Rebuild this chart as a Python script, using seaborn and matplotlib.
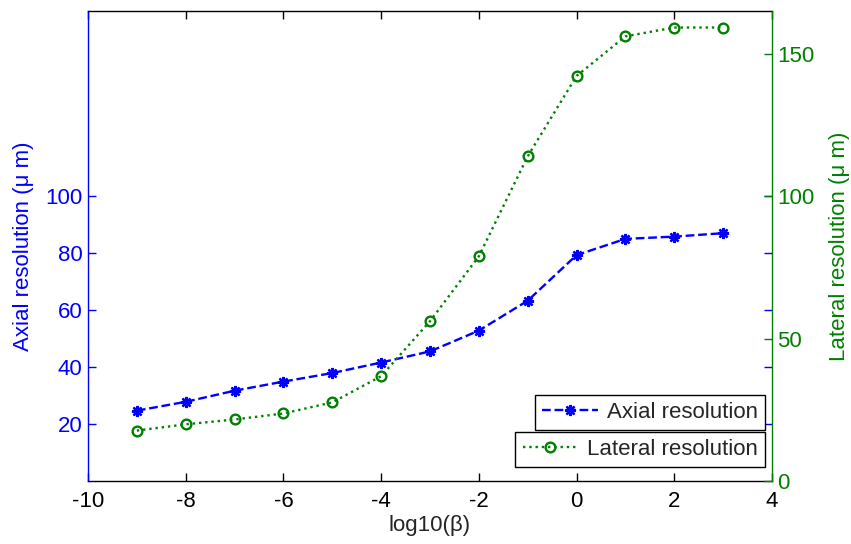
import matplotlib
matplotlib.use("Agg")
import matplotlib.pyplot as plt
import seaborn as sns
import pandas as pd

# log10(beta) sweep and the measured resolutions (micrometres)
log_beta = [-9, -8, -7, -6, -5, -4, -3, -2, -1, 0, 1, 2, 3]
axial_um = [24.7, 27.8, 31.7, 34.9, 37.9, 41.6, 45.5, 52.8, 63.3, 79.3, 85.0, 85.8, 87.0]
lateral_um = [17.7, 19.9, 21.6, 23.7, 27.6, 36.8, 56.1, 78.9, 114.0, 142.2, 156.1, 159.2, 159.2]

x_ticks = [-10, -8, -6, -4, -2, 0, 2, 4]
left_ticks = [20, 40, 60, 80, 100]
right_ticks = [0, 50, 100, 150]

df = pd.DataFrame({"log_beta": log_beta, "axial": axial_um, "lateral": lateral_um})

sns.set_theme(style="white")
plt.rcParams["font.family"] = ["Liberation Sans", "DejaVu Sans"]

BLUE = (0, 0, 1)
GREEN = (0, 0.5, 0)
FS = 16

fig = plt.figure(figsize=(8.51, 5.44), dpi=100)
ax = fig.add_axes([88 / 851, 1 - 481 / 544, (772 - 88) / 851, (481 - 11) / 544])
ax2 = ax.twinx()

sns.lineplot(data=df, x="log_beta", y="axial", ax=ax, color=BLUE, linestyle="--",
             linewidth=1.7, marker=(8, 2, 0), markersize=8, markeredgewidth=1.7,
             markeredgecolor=BLUE, label="Axial resolution", legend=False)
sns.lineplot(data=df, x="log_beta", y="lateral", ax=ax2, color=GREEN, linestyle=":",
             linewidth=1.7, marker="o", markersize=7, markerfacecolor="none",
             markeredgewidth=1.7, markeredgecolor=GREEN, label="Lateral resolution",
             legend=False)

ylim = (0, 165)
ax.set_xlim(-10, 4)
ax.set_ylim(*ylim)
ax2.set_ylim(*ylim)

ax.set_xticks(x_ticks)
ax.set_xticklabels([str(t) for t in x_ticks], fontsize=FS, color="black")
ax.set_yticks(left_ticks)
ax.set_yticklabels([str(t) for t in left_ticks], fontsize=FS, color=BLUE)
ax2.set_yticks(right_ticks)
ax2.set_yticklabels([str(t) for t in right_ticks], fontsize=FS, color=GREEN)

ax.tick_params(axis="x", direction="in", length=6, width=1, top=True, bottom=True,
               colors="black", pad=7)
ax.tick_params(axis="y", direction="in", length=6, width=1, left=True, right=True,
               colors=BLUE, pad=4)
ax2.tick_params(axis="y", direction="in", length=6, width=1, left=False, right=True,
                colors=GREEN, pad=4)

ax.set_xlabel("log10(β)", fontsize=FS, labelpad=2)
ax.set_ylabel("Axial resolution (μ m)", fontsize=FS, color=BLUE, labelpad=8)
ax2.set_ylabel("Lateral resolution (μ m)", fontsize=FS, color=GREEN, labelpad=10)

for a in (ax, ax2):
    for s in a.spines.values():
        s.set_linewidth(1.0)
ax.spines["left"].set_color(BLUE)
ax.spines["top"].set_color("black")
ax.spines["bottom"].set_color("black")
ax.spines["right"].set_visible(False)
ax2.spines["left"].set_visible(False)
ax2.spines["top"].set_visible(False)
ax2.spines["bottom"].set_visible(False)
ax2.spines["right"].set_color(GREEN)

h1, l1 = ax.get_legend_handles_labels()
h2, l2 = ax2.get_legend_handles_labels()
leg_kw = dict(loc="lower right", fontsize=FS, frameon=True, fancybox=False,
              edgecolor="black", framealpha=1, borderaxespad=0, borderpad=0.32,
              handlelength=2.5, handletextpad=0.4, bbox_transform=fig.transFigure)
leg1 = ax2.legend(h1, l1, bbox_to_anchor=(765 / 851, 1 - 430 / 544), **leg_kw)
leg1.get_frame().set_linewidth(1.0)
ax2.add_artist(leg1)
leg2 = ax2.legend(h2, l2, bbox_to_anchor=(765 / 851, 1 - 467 / 544), **leg_kw)
leg2.get_frame().set_linewidth(1.0)

fig.savefig("out.png", dpi=100, facecolor="white")
